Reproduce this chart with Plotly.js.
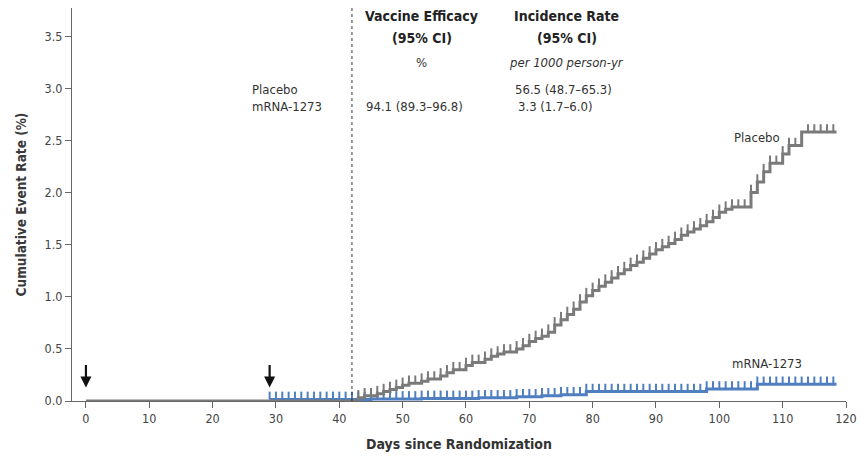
<!DOCTYPE html>
<html>
<head>
<meta charset="utf-8">
<script src="https://cdn.plot.ly/plotly-3.0.1.min.js"></script>
<style>html,body{margin:0;padding:0;background:#fff;}#chart{width:866px;height:461px;}</style>
</head>
<body>
<div id="chart"></div>
<script>
// Kaplan-Meier cumulative event rate (%)
const placeboDays = [0, 43, 44, 46, 47, 48, 49, 50, 51, 53, 54, 56, 57, 58, 60, 61, 63, 64, 65, 66, 68, 69, 70, 71, 72, 73, 74, 75, 76, 77, 78, 79, 80, 81, 82, 83, 84, 85, 86, 87, 88, 89, 90, 91, 92, 93, 94, 95, 96, 97, 98, 99, 100, 101, 102, 105, 106, 107, 108, 110, 111, 113, 118.5];
const placeboRate = [0, 0.03, 0.05, 0.07, 0.09, 0.11, 0.13, 0.15, 0.17, 0.19, 0.21, 0.24, 0.27, 0.30, 0.34, 0.37, 0.40, 0.43, 0.45, 0.47, 0.50, 0.53, 0.57, 0.60, 0.62, 0.66, 0.73, 0.78, 0.83, 0.88, 0.95, 1.01, 1.06, 1.10, 1.14, 1.18, 1.22, 1.26, 1.30, 1.33, 1.37, 1.41, 1.45, 1.48, 1.51, 1.55, 1.59, 1.62, 1.65, 1.68, 1.72, 1.76, 1.81, 1.84, 1.86, 2.00, 2.10, 2.20, 2.28, 2.37, 2.45, 2.58, 2.58];
const mrnaDays = [29, 45, 53, 62, 68, 72, 75, 79, 98, 106, 118.5];
const mrnaRate = [0.015, 0.02, 0.025, 0.03, 0.04, 0.05, 0.06, 0.09, 0.115, 0.16, 0.16];
// censoring tick days
const placeboCensor = [43, 44, 45, 46, 47, 48, 49, 50, 51, 52, 53, 54, 55, 56, 57, 58, 59, 60, 61, 62, 63, 64, 65, 66, 67, 68, 69, 70, 71, 72, 73, 74, 75, 76, 77, 78, 79, 80, 81, 82, 83, 84, 85, 86, 87, 88, 89, 90, 91, 92, 93, 94, 95, 96, 97, 98, 99, 100, 101, 102, 103, 104, 105, 106, 107, 108, 109, 110, 111, 112, 114, 115, 116, 117, 118];
const mrnaCensor = [29, 30, 31, 32, 33, 34, 35, 36, 37, 38, 39, 40, 41, 42, 43, 44, 45, 46, 47, 48, 49, 50, 51, 52, 53, 54, 55, 56, 57, 58, 59, 60, 61, 62, 63, 64, 65, 66, 67, 68, 69, 70, 71, 72, 73, 74, 75, 76, 77, 78, 79, 80, 81, 82, 83, 84, 85, 86, 87, 88, 89, 90, 91, 92, 93, 94, 95, 96, 97, 98, 99, 100, 101, 102, 103, 104, 105, 106, 107, 108, 109, 110, 111, 112, 113, 114, 115, 116, 117, 118];
const xTicks = [0, 10, 20, 30, 40, 50, 60, 70, 80, 90, 100, 110, 120];
const yTicks = [0, 0.5, 1.0, 1.5, 2.0, 2.5, 3.0, 3.5];
const doseDays = [0, 29];
const analysisStartDay = 42;

const GRAY = '#7a7a7a', BLUE = '#4f7fc0';
const FONT = 'DejaVu Sans Condensed, DejaVu Sans, sans-serif';
const TICK_H = 0.075;

function stepAt(days, rates, d) {
  let v = rates[0];
  for (let i = 0; i < days.length; i++) { if (days[i] <= d) v = rates[i]; }
  return v;
}
function censorSegments(cDays, days, rates) {
  const xs = [], ys = [];
  cDays.forEach(d => { const v = stepAt(days, rates, d); xs.push(d, d, null); ys.push(v, v + TICK_H, null); });
  return {xs, ys};
}
const pc = censorSegments(placeboCensor, placeboDays, placeboRate);
const mc = censorSegments(mrnaCensor, mrnaDays, mrnaRate);

const traces = [
  {x: mrnaDays, y: mrnaRate, mode: 'lines', line: {shape: 'hv', color: BLUE, width: 3}, hoverinfo: 'skip'},
  {x: mc.xs, y: mc.ys, mode: 'lines', line: {color: BLUE, width: 2}, connectgaps: false, hoverinfo: 'skip'},
  {x: placeboDays, y: placeboRate, mode: 'lines', line: {shape: 'hv', color: GRAY, width: 3}, hoverinfo: 'skip'},
  {x: pc.xs, y: pc.ys, mode: 'lines', line: {color: GRAY, width: 2}, connectgaps: false, hoverinfo: 'skip'}
];

const ann = [];
function txt(x, y, t, opts) {
  ann.push(Object.assign({xref: 'paper', yref: 'paper', x: x, y: y, text: t, showarrow: false,
    font: {family: FONT, size: 13, color: '#333'}, xanchor: 'center', yanchor: 'middle'}, opts || {}));
}
// pixel helpers for header text (paper coords)
const L = 72, R = 846.5, T = 8, B = 401;
const px = v => (v - L) / (R - L);
const py = v => (B - v) / (B - T);
txt(px(422), py(16), '<b>Vaccine Efficacy</b>', {font: {family: FONT, size: 14, color: '#222'}});
txt(px(422), py(38), '<b>(95% CI)</b>', {font: {family: FONT, size: 14, color: '#222'}});
txt(px(567), py(16), '<b>Incidence Rate</b>', {font: {family: FONT, size: 14, color: '#222'}});
txt(px(567), py(38), '<b>(95% CI)</b>', {font: {family: FONT, size: 14, color: '#222'}});
txt(px(422), py(62), '%');
txt(px(567), py(62), '<i>per 1000 person-yr</i>');
txt(px(250), py(90), 'Placebo', {xanchor: 'left'});
txt(px(250), py(107), 'mRNA-1273', {xanchor: 'left'});
txt(px(564), py(90), '56.5 (48.7–65.3)');
txt(px(415), py(107), '94.1 (89.3–96.8)');
txt(px(555), py(107), '3.3 (1.7–6.0)');
txt(px(757), py(137), 'Placebo');
txt(px(767), py(363), 'mRNA-1273');
// dose arrows
doseDays.forEach(d => ann.push({x: d, y: 0.13, xref: 'x', yref: 'y', ax: 0, ay: -24, showarrow: true,
  arrowhead: 2, arrowsize: 1, arrowwidth: 2.2, arrowcolor: '#111', text: ''}));

const layout = {
  width: 866, height: 461,
  margin: {l: L, r: 866 - R, t: T, b: 461 - B},
  paper_bgcolor: '#fff', plot_bgcolor: '#fff',
  showlegend: false,
  font: {family: FONT, size: 12, color: '#444'},
  xaxis: {range: [-2.2, 120], tickvals: xTicks, ticks: 'outside', ticklen: 6, tickcolor: '#666',
    showline: true, linecolor: '#666', linewidth: 1, showgrid: false, zeroline: false,
    tickfont: {family: FONT, size: 12.5, color: '#444'},
    title: {text: '<b>Days since Randomization</b>', font: {family: FONT, size: 14, color: '#333'}, standoff: 14}},
  yaxis: {range: [0, 3.77], tickvals: yTicks, tickformat: '.1f', ticks: 'outside', ticklen: 6, tickcolor: '#666',
    showline: true, linecolor: '#666', linewidth: 1, showgrid: false, zeroline: false,
    tickfont: {family: FONT, size: 12.5, color: '#444'},
    title: {text: '<b>Cumulative Event Rate (%)</b>', font: {family: FONT, size: 13.5, color: '#3a3a3a'}, standoff: 14}},
  shapes: [{type: 'line', xref: 'x', yref: 'paper', x0: analysisStartDay, x1: analysisStartDay, y0: 0, y1: 1,
    line: {color: '#333', width: 1, dash: '3px,3px'}}],
  annotations: ann
};
Plotly.newPlot('chart', traces, layout, {displayModeBar: false, staticPlot: true});
</script>
</body>
</html>
